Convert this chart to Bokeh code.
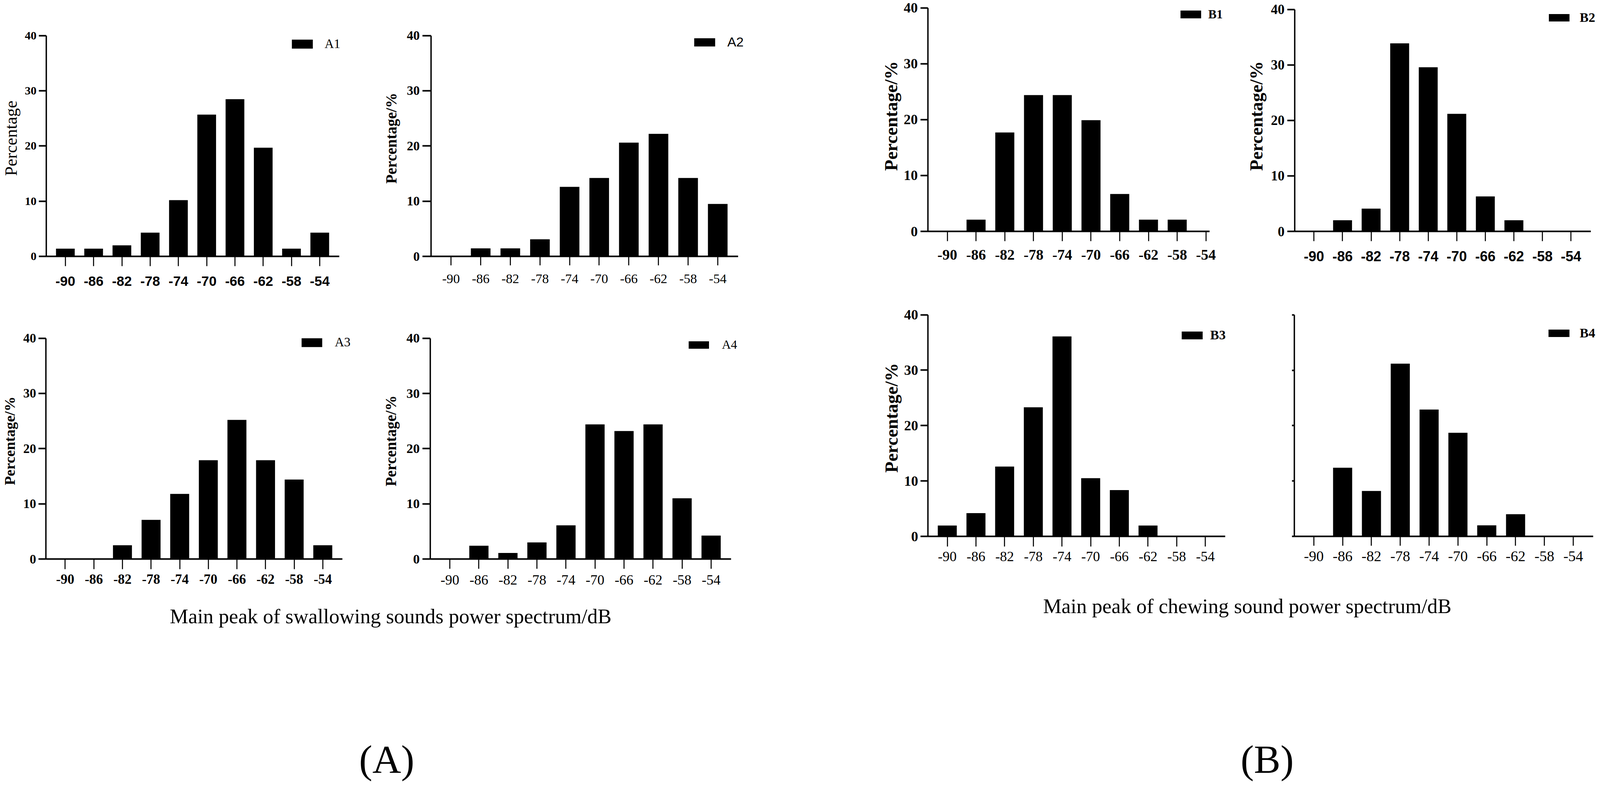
from bokeh.plotting import figure
from bokeh.models import Range1d, FixedTicker, Legend, LegendItem, Div
from bokeh.layouts import row, column
from bokeh.core.properties import value
from bokeh.embed import file_html
from bokeh.resources import INLINE

# ---------------- data ----------------
db_bins = [-90, -86, -82, -78, -74, -70, -66, -62, -58, -54]
x_tick_labels = ["-90", "-86", "-82", "-78", "-74", "-70", "-66", "-62", "-58", "-54"]
y_ticks = [0, 10, 20, 30, 40]

A1 = [1.4, 1.4, 2.0, 4.3, 10.2, 25.7, 28.5, 19.7, 1.4, 4.3]
A2 = [0.0, 1.45, 1.45, 3.1, 12.6, 14.2, 20.6, 22.2, 14.2, 9.5]
A3 = [0.0, 0.0, 2.5, 7.1, 11.8, 17.9, 25.2, 17.9, 14.4, 2.5]
A4 = [0.0, 2.4, 1.1, 3.0, 6.1, 24.4, 23.2, 24.4, 11.0, 4.25]
B1 = [0.0, 2.1, 17.7, 24.4, 24.4, 19.9, 6.7, 2.1, 2.1, 0.0]
B2 = [0.0, 2.0, 4.1, 33.9, 29.6, 21.2, 6.3, 2.0, 0.0, 0.0]
B3 = [1.95, 4.2, 12.6, 23.3, 36.1, 10.5, 8.35, 1.95, 0.0, 0.0]
B4 = [0.0, 12.4, 8.2, 31.2, 22.9, 18.7, 2.0, 4.0, 0.0, 0.0]

caption_A = "Main peak of swallowing sounds power spectrum/dB"
caption_B = "Main peak of chewing sound power spectrum/dB"
label_A = "(A)"
label_B = "(B)"

SERIF = "Liberation Serif"
SANS = "Liberation Sans"

# Geometry is measured in reference-image pixels.  The page is rendered in a
# viewport 4096 px wide, so horizontal positions are scaled by KX; vertical 1:1.
KX = 4096.0 / 4642.0


def px(xref):
    """reference x -> page x"""
    return 8 + (xref - 9.07) * KX


# canvas boundaries in reference x
XB = {"A_l": 9.07, "A_m": 1100, "AB": 2400, "B_m": 3600, "B_r": 4630}

cfg = {
    "A1": dict(vals=A1, cx=("A_l", "A_m"), cy=(8, 770), L=139, R=992, T=98.7, B=664, x_end=-51.25, ext=40,
               ylabel="Percentage", yl_size=44, yl_style="normal", yl_st=9,
               yt_size=30, yt_out=22, yt_st=7,
               xt_font=SANS, xt_size=35, xt_style="bold", xt_out=25, xt_st=26,
               lg_font=SERIF, lg_size=33, lg_style="normal", glyph=(852, 104, 61, 23), text_x=948),
    "A2": dict(vals=A2, cx=("A_m", "AB"), cy=(8, 770), L=1259, R=2150, T=95.5, B=665.7, x_end=-51.25, ext=60,
               ylabel="Percentage/%", yl_size=39, yl_style="bold", yl_st=18,
               yt_size=33, yt_out=25, yt_st=8,
               xt_font=SERIF, xt_size=34, xt_style="normal", xt_out=23, xt_st=23,
               lg_font=SANS, lg_size=34, lg_style="normal", glyph=(2023, 100, 61, 21), text_x=2120),
    "A3": dict(vals=A3, cx=("A_l", "A_m"), cy=(770, 1530), L=139, R=1001.5, T=866.5, B=1439, x_end=-51.25, ext=60,
               ylabel="Percentage/%", yl_size=38, yl_style="bold", yl_st=13,
               yt_size=33, yt_out=22, yt_st=7,
               xt_font=SERIF, xt_size=35, xt_style="bold", xt_out=26, xt_st=13,
               lg_font=SERIF, lg_size=33, lg_style="normal", glyph=(881, 868, 60, 22), text_x=978),
    "A4": dict(vals=A4, cx=("A_m", "AB"), cy=(770, 1530), L=1257, R=2129, T=873.6, B=1440, x_end=-51.25, ext=60,
               ylabel="Percentage/%", yl_size=39, yl_style="bold", yl_st=18,
               yt_size=34, yt_out=23, yt_st=8,
               xt_font=SERIF, xt_size=36, xt_style="normal", xt_out=25, xt_st=16,
               lg_font=SERIF, lg_size=32, lg_style="normal", glyph=(2007, 876, 59, 19), text_x=2104),
    "B1": dict(vals=B1, cx=("AB", "B_m"), cy=(8, 720), L=2689, R=3507, T=27.7, B=600, x_end=-53.47, ext=80,
               ylabel="Percentage/%", yl_size=47, yl_style="bold", yl_st=4,
               yt_size=36, yt_out=21, yt_st=8,
               xt_font=SERIF, xt_size=38, xt_style="bold", xt_out=25, xt_st=22,
               lg_font=SERIF, lg_size=32, lg_style="bold", glyph=(3422, 29, 60, 20), text_x=3503),
    "B2": dict(vals=B2, cx=("B_m", "B_r"), cy=(8, 720), L=3754, R=4612, T=32, B=601, x_end=-51.25, ext=18,
               ylabel="Percentage/%", yl_size=47, yl_style="bold", yl_st=10,
               yt_size=35, yt_out=22, yt_st=8,
               xt_font=SANS, xt_size=36, xt_style="bold", xt_out=25, xt_st=25,
               lg_font=SERIF, lg_size=34, lg_style="bold", glyph=(4491, 36, 60, 19), text_x=4581),
    "B3": dict(vals=B3, cx=("AB", "B_m"), cy=(720, 1470), L=2689, R=3552, T=808, B=1380.7, x_end=-51.25, ext=40,
               ylabel="Percentage/%", yl_size=47, yl_style="bold", yl_st=5,
               yt_size=36, yt_out=21, yt_st=7,
               xt_font=SERIF, xt_size=36, xt_style="normal", xt_out=26, xt_st=13,
               lg_font=SERIF, lg_size=34, lg_style="bold", glyph=(3425, 848, 61, 20), text_x=3508),
    "B4": dict(vals=B4, cx=("B_m", "B_r"), cy=(720, 1470), L=3752, R=4619, T=814, B=1383, x_end=-51.25, ext=11,
               ylabel=None, yl_size=40, yl_style="bold", yl_st=5,
               yt_size=34, yt_out=7, yt_st=5,
               xt_font=SERIF, xt_size=38, xt_style="normal", xt_out=24, xt_st=14,
               lg_font=SERIF, lg_size=34, lg_style="bold", glyph=(4490, 845, 61, 19), text_x=4581),
}

X_START = -92.7
Y_TOP = 40
BAR_W = 2.65


def make_panel(name):
    c = cfg[name]
    cl, cr = round(px(XB[c["cx"][0]])), round(px(XB[c["cx"][1]]))
    ct, cb = c["cy"]
    fl, fr, ft, fb = px(c["L"]), px(c["R"]), c["T"], c["B"]
    # the frame is grown to the right and upward (axes keep their bounds) so
    # that the legends, which overhang the plotting area, are not clipped
    fr_ext = min(px(c["R"] + c["ext"]), cr)
    x_end_ext = c["x_end"] + (fr_ext - fr) * (c["x_end"] - X_START) / (fr - fl)
    ft_ext = max(ft - 40, ct + 1)
    y_end_ext = Y_TOP + (ft - ft_ext) * Y_TOP / (fb - ft)

    p = figure(width=cr - cl, height=cb - ct,
               x_range=Range1d(X_START, x_end_ext), y_range=Range1d(0, y_end_ext),
               output_backend="svg", toolbar_location=None,
               min_border_left=round(fl - cl), min_border_right=round(cr - fr_ext),
               min_border_top=round(ft_ext - ct), min_border_bottom=round(cb - fb))
    p.outline_line_color = None
    p.xgrid.visible = False
    p.ygrid.visible = False
    p.background_fill_color = "white"
    p.border_fill_color = "white"

    r = p.vbar(x=db_bins, top=c["vals"], width=BAR_W, bottom=0,
               fill_color="black", line_color=None)

    xa = p.xaxis[0]
    xa.bounds = (X_START, c["x_end"])
    xa.ticker = FixedTicker(ticks=db_bins)
    xa.major_label_overrides = {t: lab for t, lab in zip(db_bins, x_tick_labels)}
    xa.axis_line_width = 4
    xa.axis_line_color = "black"
    xa.major_tick_line_width = 3 * KX
    xa.major_tick_out = c["xt_out"]
    xa.major_tick_in = 0
    xa.minor_tick_line_color = None
    xa.major_label_standoff = c["xt_st"]
    xa.major_label_text_font = c["xt_font"]
    xa.major_label_text_font_size = f'{c["xt_size"]}px'
    xa.major_label_text_font_style = c["xt_style"]
    xa.major_label_text_color = "black"

    ya = p.yaxis[0]
    ya.bounds = (0, Y_TOP)
    ya.ticker = FixedTicker(ticks=y_ticks)
    ya.axis_line_width = 4 * KX
    ya.axis_line_color = "black"
    ya.major_tick_line_width = 4
    ya.major_tick_out = round(c["yt_out"] * KX)
    ya.major_tick_in = 0
    ya.minor_tick_line_color = None
    ya.major_label_standoff = round(c["yt_st"] * KX)
    ya.major_label_text_font = SERIF
    ya.major_label_text_font_size = f'{c["yt_size"]}px'
    ya.major_label_text_font_style = "bold"
    ya.major_label_text_color = "black"
    if c["ylabel"] is None:
        ya.major_label_overrides = {t: "" for t in y_ticks}
    else:
        ya.axis_label = c["ylabel"]
        ya.axis_label_text_font = SERIF
        ya.axis_label_text_font_size = f'{c["yl_size"]}px'
        ya.axis_label_text_font_style = c["yl_style"]
        ya.axis_label_standoff = round(c["yl_st"] * KX)
        ya.axis_label_text_color = "black"

    # legend placement: glyph box measured on the reference, converted to page px
    gx0, gy0, gw, gh = c["glyph"]
    GW = gw * KX / 0.8
    GH = gh / 0.8
    leg_left = px(gx0) - 0.1 * GW
    standoff = px(c["text_x"]) - (leg_left + GW)
    y1 = gy0 - 0.1 * GH
    max_h = max(GH, 1.15 * c["lg_size"])
    leg_bottom = y1 + max_h
    vx = leg_left - fl
    vy = fb - leg_bottom
    leg = Legend(items=[LegendItem(label=value(name), renderers=[r])],
                 location=(round(vx), round(vy)),
                 padding=0, margin=0, spacing=0,
                 glyph_width=round(GW), glyph_height=round(GH),
                 label_standoff=round(standoff), label_width=60,
                 label_text_font=c["lg_font"], label_text_font_size=f'{c["lg_size"]}px',
                 label_text_font_style=c["lg_style"], label_text_color="black",
                 border_line_color=None, background_fill_alpha=0)
    p.add_layout(leg)
    return p


panels = {n: make_panel(n) for n in cfg}


def caption_div(xl, xr, top, bottom, cap, cap_cx, cap_top, lab, lab_cx, lab_top):
    left = round(px(XB[xl]))
    width = round(px(XB[xr])) - left
    height = bottom - top
    cw, lw = 1500, 360
    cap_left = round(px(cap_cx) - left - cw / 2)
    lab_left = round(px(lab_cx) - left - lw / 2)
    html = (
        f'<div style="position:relative;width:{width}px;height:{height}px;">'
        f'<div style="position:absolute;left:{cap_left}px;top:{cap_top - top}px;width:{cw}px;'
        f'text-align:center;font-family:\'Liberation Serif\';font-size:53px;line-height:1;'
        f'white-space:nowrap;color:black;">{cap}</div>'
        f'<div style="position:absolute;left:{lab_left}px;top:{lab_top - top}px;width:{lw}px;'
        f'text-align:center;font-family:\'Liberation Serif\';font-size:102px;line-height:1;'
        f'white-space:nowrap;color:black;">{lab}</div>'
        f'</div>'
    )
    return Div(text=html, width=width, height=height)


divA = caption_div("A_l", "AB", 1530, 2012, caption_A, 1137, 1555, label_A, 1125, 1897)
divB = caption_div("AB", "B_r", 1470, 2012, caption_B, 3611, 1529, label_B, 3668, 1897)

colA = column(row(panels["A1"], panels["A2"]), row(panels["A3"], panels["A4"]), divA)
colB = column(row(panels["B1"], panels["B2"]), row(panels["B3"], panels["B4"]), divB)
layout = row(colA, colB)

open("out.html", "w").write(file_html(layout, INLINE))
